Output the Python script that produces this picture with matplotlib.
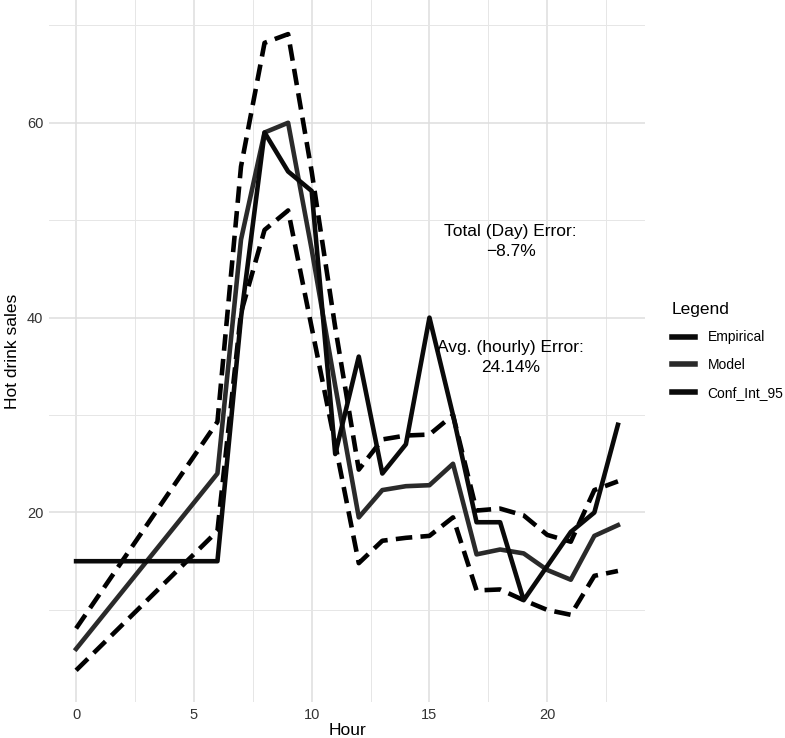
import matplotlib
matplotlib.use("Agg")
import matplotlib.pyplot as plt
from matplotlib.lines import Line2D

plt.rcParams['font.family'] = ['Liberation Sans', 'DejaVu Sans']

# hourly values
hours = [0, 6, 7, 8, 9, 10, 11, 12, 13, 14, 15, 16, 17, 18, 19, 20, 21, 22, 23]
empirical = [15, 15, 40, 59, 55, 53, 26, 36, 24, 27, 40, 30, 19, 19, 11, 14.5, 18, 20, 29]
model = [6, 24, 48, 59, 60, 47, 33, 19.5, 22.3, 22.7, 22.8, 25, 15.7, 16.2, 15.8, 14.1, 13.1, 17.6, 18.7]
ci_upper = [8.1, 29.3, 55.5, 68.2, 69.1, 55, 39, 24.4, 27.5, 27.9, 28, 30, 20.2, 20.4, 19.7, 17.7, 17, 22.3, 23.2]
ci_lower = [3.8, 18.1, 40.5, 49, 51, 39, 27, 14.8, 17.1, 17.4, 17.6, 19.5, 12, 12.1, 11, 10, 9.5, 13.5, 14]

total_error = "-8.7%"
hourly_error = "24.14%"

fig = plt.figure(figsize=(7.85, 7.38), dpi=100)
ax = fig.add_axes([49 / 785, 36 / 738, 596 / 785, 702 / 738])

lw = 3.3
dash = (3.6, 1.8)
ax.plot(hours, ci_upper, color='black', lw=lw, dashes=dash)
ax.plot(hours, ci_lower, color='black', lw=lw, dashes=dash)
ax.plot(hours, model, color='#2a2a2a', lw=lw)
ax.plot(hours, empirical, color='#0a0a0a', lw=lw)

ax.text(18.45, 47.8, "Total (Day) Error:\n" + total_error.replace("-", "\u2212"),
        ha='center', va='center', fontsize=12.5, linespacing=1.45)
ax.text(18.45, 35.9, "Avg. (hourly) Error:\n" + hourly_error,
        ha='center', va='center', fontsize=12.5, linespacing=1.45)

ax.set_xlim(-1.15, 24.15)
ax.set_ylim(0.55, 72.6)
ax.set_xticks([0, 5, 10, 15, 20])
ax.set_xticks([2.5, 7.5, 12.5, 17.5, 22.5], minor=True)
ax.set_yticks([20, 40, 60])
ax.set_yticks([10, 30, 50, 70], minor=True)
ax.grid(which='major', color='#dedede', lw=1.1)
ax.grid(which='minor', color='#e6e6e6', lw=0.7)
ax.set_axisbelow(True)
for s in ax.spines.values():
    s.set_visible(False)
ax.tick_params(which='both', length=0, labelsize=10.5, labelcolor='#333333', pad=4)
ax.set_xlabel("Hour", fontsize=12.5, labelpad=1)
ax.set_ylabel("Hot drink sales", fontsize=12.5, labelpad=5)

handles = [Line2D([], [], color='#0a0a0a', lw=4),
           Line2D([], [], color='#2a2a2a', lw=4),
           Line2D([], [], color='#0a0a0a', lw=4)]
leg = fig.legend(handles, ["Empirical", "Model", "Conf_Int_95"], title="Legend",
                 loc='upper left', bbox_to_anchor=(659 / 785, 1 - 289 / 738),
                 frameon=False, fontsize=10, title_fontsize=12.5,
                 handlelength=1.7, handletextpad=0.9, labelspacing=1.0)
leg._legend_box.align = "left"

fig.savefig("out.png", dpi=100)
